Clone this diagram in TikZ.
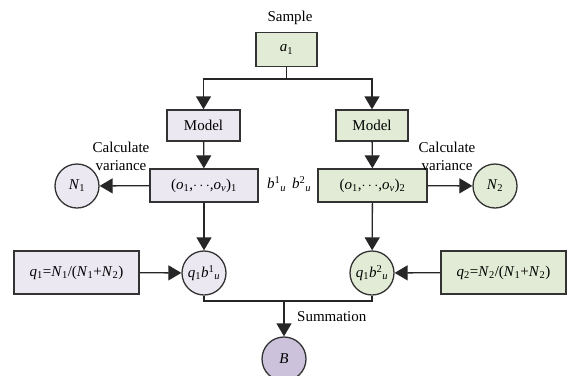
\documentclass[tikz,border=0pt]{standalone}
\usepackage{fontspec}
\setmainfont{Liberation Serif}
\usetikzlibrary{arrows.meta}
\definecolor{lav}{HTML}{EBE8F1}
\definecolor{grn}{HTML}{E2EBD5}
\definecolor{pur}{HTML}{CCC2DC}
\newcommand{\iv}[1]{\textit{#1}}
\tikzset{
  box/.style={draw=black!80, line width=1.3pt, inner sep=0pt, font=\fontsize{15}{17}\selectfont},
  circ/.style={circle, draw=black!80, line width=1.3pt, minimum size=44pt, inner sep=0pt, font=\fontsize{15}{17}\selectfont},
  lbl/.style={font=\fontsize{15}{18}\selectfont, inner sep=0pt},
  conn/.style={line width=1.3pt, draw=black!85},
  arr/.style={conn, -{Triangle[length=13pt,width=15pt]}},
}
\begin{document}
\begin{tikzpicture}[x=1pt,y=-1pt]
\useasboundingbox (0,0) rectangle (567,375);
\clip (0,0) rectangle (567,375);
% nodes
\node[lbl] (sample) at (290,18) {Sample};
\node[box, fill=grn, minimum width=61pt, minimum height=34pt] (a1) at (286.5,49.5) {\iv{a}\textsubscript{1}};
\node[box, fill=lav, minimum width=73pt, minimum height=31pt] (mL) at (203.5,125.5) {Model};
\node[box, fill=grn, minimum width=72pt, minimum height=31pt] (mR) at (372,125.5) {Model};
\node[box, fill=lav, minimum width=108pt, minimum height=33pt] (oL) at (204,185.5) {(\iv{o}\textsubscript{1},$\cdots$,\iv{o}\textsubscript{\iv{v}})\textsubscript{1}};
\node[box, fill=grn, minimum width=109pt, minimum height=33pt] (oR) at (372.5,185.5) {(\iv{o}\textsubscript{1},$\cdots$,\iv{o}\textsubscript{\iv{v}})\textsubscript{2}};
\node[circ, fill=lav] (N1) at (77,186) {\iv{N}\textsubscript{1}};
\node[circ, fill=grn] (N2) at (495,186) {\iv{N}\textsubscript{2}};
\node[lbl, align=center] (cvL) at (121,156) {Calculate\\variance};
\node[lbl, align=center] (cvR) at (447,156) {Calculate\\variance};
\node[lbl] (bb) at (289,184) {\iv{b}\textsuperscript{1}\textsubscript{\iv{u}}\hspace{6pt}\iv{b}\textsuperscript{2}\textsubscript{\iv{u}}};
\node[circ, fill=lav] (c1) at (204,273) {\iv{q}\textsubscript{1}\iv{b}\textsuperscript{1}\textsubscript{\iv{u}}};
\node[circ, fill=grn] (c2) at (372,273) {\iv{q}\textsubscript{1}\iv{b}\textsuperscript{2}\textsubscript{\iv{u}}};
\node[box, fill=lav, minimum width=125pt, minimum height=43pt] (q1) at (76.5,272.5) {\iv{q}\textsubscript{1}=\iv{N}\textsubscript{1}/(\iv{N}\textsubscript{1}+\iv{N}\textsubscript{2})};
\node[box, fill=grn, minimum width=125pt, minimum height=43pt] (q2) at (503.5,272.5) {\iv{q}\textsubscript{2}=\iv{N}\textsubscript{2}/(\iv{N}\textsubscript{1}+\iv{N}\textsubscript{2})};
\node[circ, fill=pur] (B) at (284,359) {\iv{B}};
\node[lbl, anchor=west] (sum) at (297,317) {Summation};
% connectors
\coordinate (sp) at (286.5,79);
\draw[conn] (a1.south) -- (sp);
\draw[arr] (sp) -| (mL.north);
\draw[arr] (sp) -| (mR.north);
\draw[arr] (mL) -- (oL);
\draw[arr] (mR) -- (oR);
\draw[arr] (oL) -- (N1);
\draw[arr] (oR) -- (N2);
\draw[arr] (oL) -- (c1);
\draw[arr] (oR) -- (c2);
\draw[arr] (q1) -- (c1);
\draw[arr] (q2) -- (c2);
\coordinate (j) at (284,301);
\draw[conn] (c1.south) |- (j) -| (c2.south);
\draw[arr] (j) -- (B);
\end{tikzpicture}
\end{document}
